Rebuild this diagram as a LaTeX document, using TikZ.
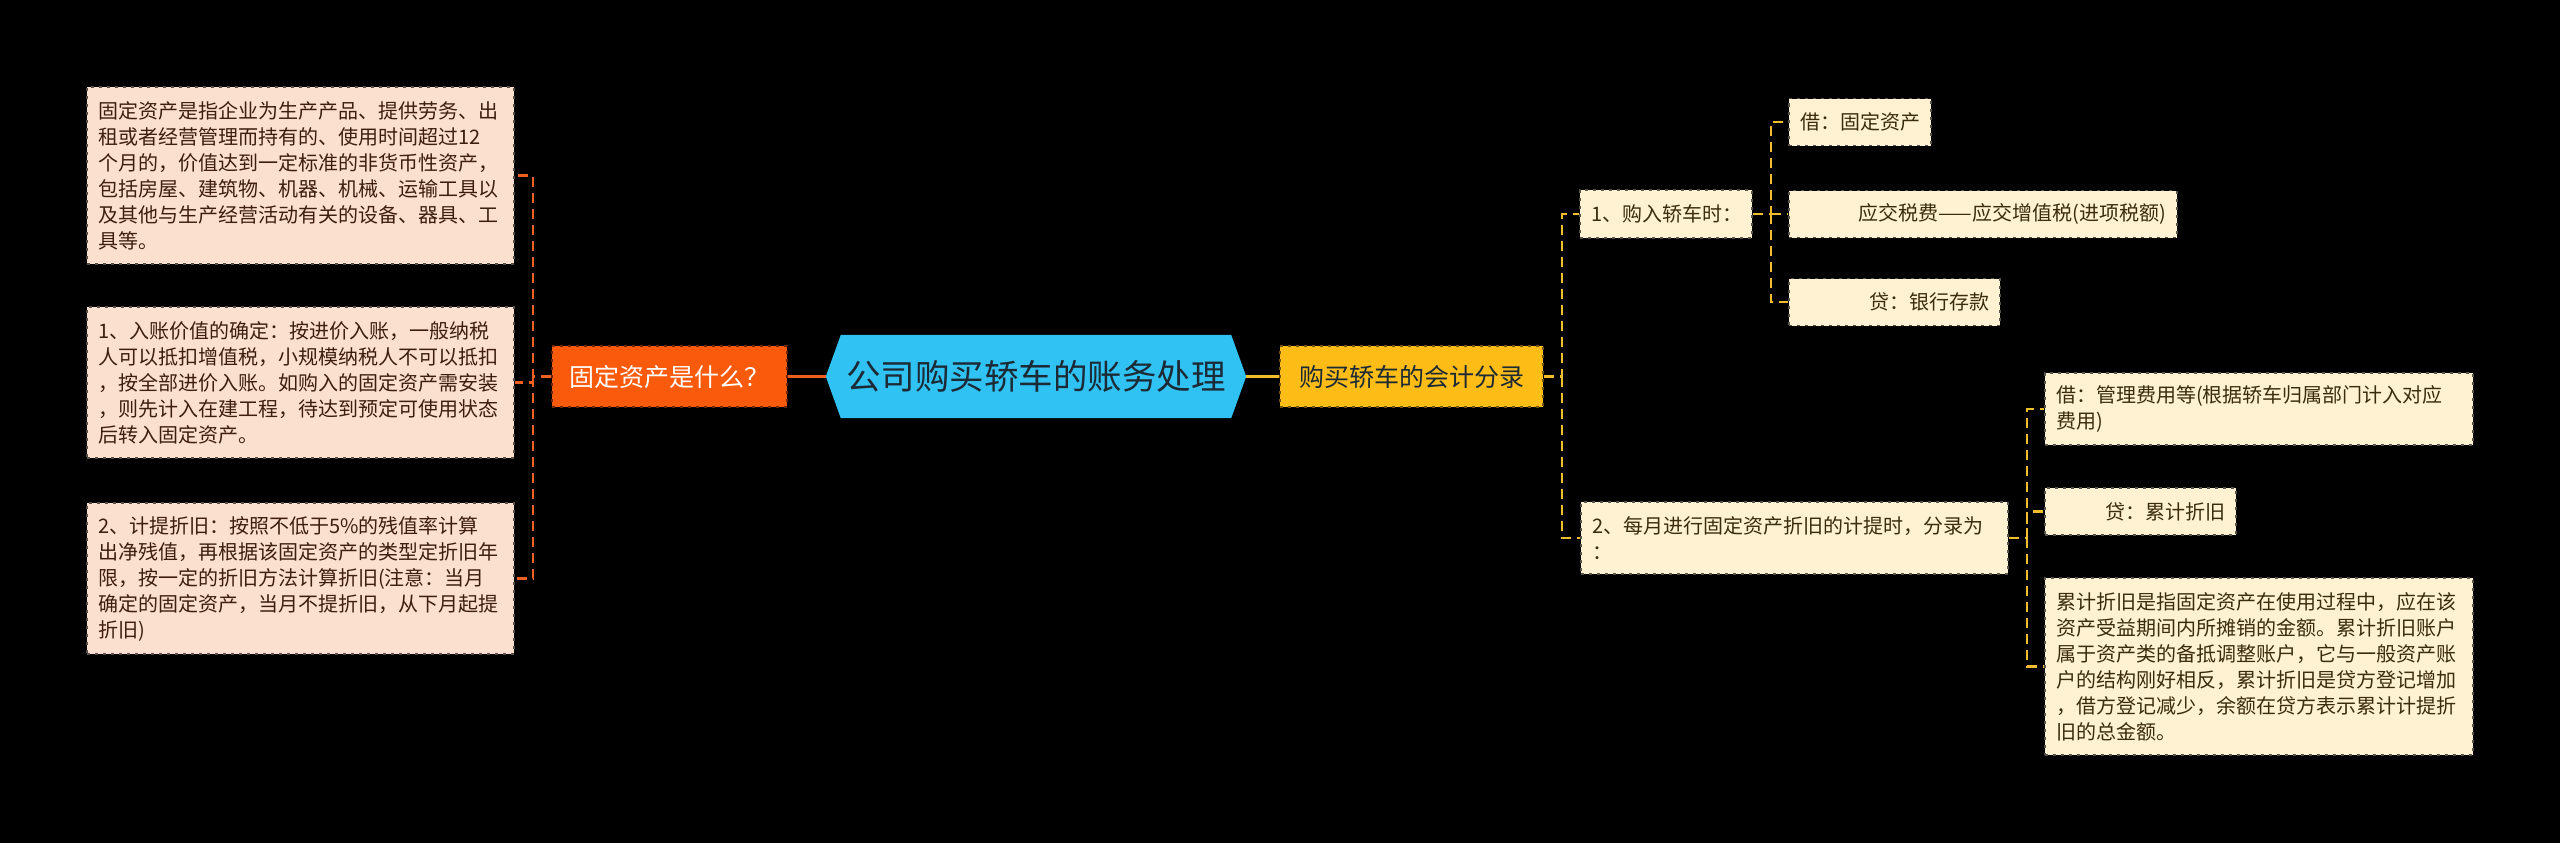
\documentclass[tikz,border=0pt]{standalone}
\usepackage{fontspec}
\setmainfont{Noto Sans CJK SC}
\usetikzlibrary{calc,backgrounds}
\definecolor{lfill}{HTML}{FCE0CF}
\definecolor{ltext}{HTML}{3D1E10}
\definecolor{ofill}{HTML}{FA5A0C}
\definecolor{oline}{HTML}{EE6020}
\definecolor{cfill}{HTML}{30C2F2}
\definecolor{ctext}{HTML}{1C2A36}
\definecolor{yfill}{HTML}{FDBD16}
\definecolor{yline}{HTML}{F0BE2C}
\definecolor{rfill}{HTML}{FEF2D3}
\definecolor{rtext}{HTML}{3A2C0C}
\tikzset{
  boxbase/.style={rectangle, dash pattern=on 3pt off 5pt, line width=1.6pt, inner xsep=11pt, inner ysep=0pt},
  leftbox/.style={boxbase, fill=lfill, draw=black!65!lfill, text=ltext, text width=405pt, align=left, minimum height=#1, font=\fontsize{20pt}{26pt}\selectfont},
  rightbox/.style={boxbase, fill=rfill, draw=black!65!rfill, text=rtext, minimum height=#1, font=\fontsize{20pt}{26pt}\selectfont},
  topicbox/.style={boxbase, inner xsep=0pt, minimum height=61pt, font=\fontsize{25pt}{30pt}\selectfont},
  oconn/.style={draw=oline, line width=2.2pt, dash pattern=on 10pt off 6pt},
  yconn/.style={draw=yline, line width=2.2pt, dash pattern=on 10pt off 6pt},
}
\begin{document}
\begin{tikzpicture}[x=1pt,y=-1pt]
\begin{pgfonlayer}{background}
\useasboundingbox[fill=black] (0,0) rectangle (2560,843);
\end{pgfonlayer}

% left side
\node[leftbox=177pt] (L1) at (300.5,175.5) {固定资产是指企业为生产产品、提供劳务、出\\租或者经营管理而持有的、使用时间超过12\\个月的，价值达到一定标准的非货币性资产，\\包括房屋、建筑物、机器、机械、运输工具以\\及其他与生产经营活动有关的设备、器具、工\\具等。};
\node[leftbox=151pt] (L2) at (300.5,382.5) {1、入账价值的确定：按进价入账，一般纳税\\人可以抵扣增值税，小规模纳税人不可以抵扣\\，按全部进价入账。如购入的固定资产需安装\\，则先计入在建工程，待达到预定可使用状态\\后转入固定资产。};
\node[leftbox=151pt] (L3) at (300.5,578.5) {2、计提折旧：按照不低于5\%的残值率计算\\出净残值，再根据该固定资产的类型定折旧年\\限，按一定的折旧方法计算折旧(注意：当月\\确定的固定资产，当月不提折旧，从下月起提\\折旧)};

\node[topicbox, fill=ofill, draw=black!55!ofill, text=white, minimum width=235pt] (O) at (669.5,376.5) {固定资产是什么？};

% centre
\node[inner sep=0pt, minimum width=420pt, minimum height=83pt, text=ctext, font=\fontsize{34.5pt}{40pt}\selectfont] (C) at (1036,376.5) {公司购买轿车的账务处理};
\begin{pgfonlayer}{background}
\fill[cfill] (C.west) -- ($(C.north west)+(15,0)$) -- ($(C.north east)+(-15,0)$) -- (C.east) -- ($(C.south east)+(-15,0)$) -- ($(C.south west)+(15,0)$) -- cycle;
\end{pgfonlayer}

\node[topicbox, fill=yfill, draw=black!55!yfill, text=ctext, minimum width=263pt] (Y) at (1411.5,376.5) {购买轿车的会计分录};

% right side
\node[rightbox=48pt, text width=150pt, align=left] (N1) at (1666,214) {1、购入轿车时：};
\node[rightbox=47pt, text width=120pt, align=left] (A1) at (1860,122) {借：固定资产};
\node[rightbox=47pt, text width=366pt, align=right] (A2) at (1983,214) {应交税费——应交增值税(进项税额)};
\node[rightbox=47pt, text width=189pt, align=right] (A3) at (1894.5,302) {贷：银行存款};

\node[rightbox=72pt, text width=405pt, align=left] (N2) at (1794.5,538) {2、每月进行固定资产折旧的计提时，分录为\\：};
\node[rightbox=72pt, text width=406pt, align=left] (B1) at (2259,409) {借：管理费用等(根据轿车归属部门计入对应\\费用)};
\node[rightbox=47pt, text width=169pt, align=right] (B2) at (2140.5,511.5) {贷：累计折旧};
\node[rightbox=177pt, text width=406pt, align=left] (B3) at (2259,666.5) {累计折旧是指固定资产在使用过程中，应在该\\资产受益期间内所摊销的金额。累计折旧账户\\属于资产类的备抵调整账户，它与一般资产账\\户的结构刚好相反，累计折旧是贷方登记增加\\，借方登记减少，余额在贷方表示累计计提折\\旧的总金额。};

% connectors
\coordinate (ol) at (533,376.5);
\draw[oconn] (O.west) -- (ol) |- (L1.east);
\draw[oconn] (ol) |- (L2.east);
\draw[oconn] (ol) |- (L3.east);
\draw[draw=oline, line width=3pt] (O.east) -- (C.west);
\draw[draw=yline, line width=3pt] (C.east) -- (Y.west);

\coordinate (yr) at (1562,376.5);
\draw[yconn] (Y.east) -- (yr) |- (N1.west);
\draw[yconn] (yr) |- (N2.west);

\coordinate (n1r) at (1771,214);
\draw[yconn] (N1.east) -- (n1r) |- (A1.west);
\draw[yconn] (n1r) -- (A2.west);
\draw[yconn] (n1r) |- (A3.west);

\coordinate (n2r) at (2027,538);
\draw[yconn] (N2.east) -- (n2r) |- (B1.west);
\draw[yconn] (n2r) |- (B2.west);
\draw[yconn] (n2r) |- (B3.west);
\end{tikzpicture}
\end{document}
